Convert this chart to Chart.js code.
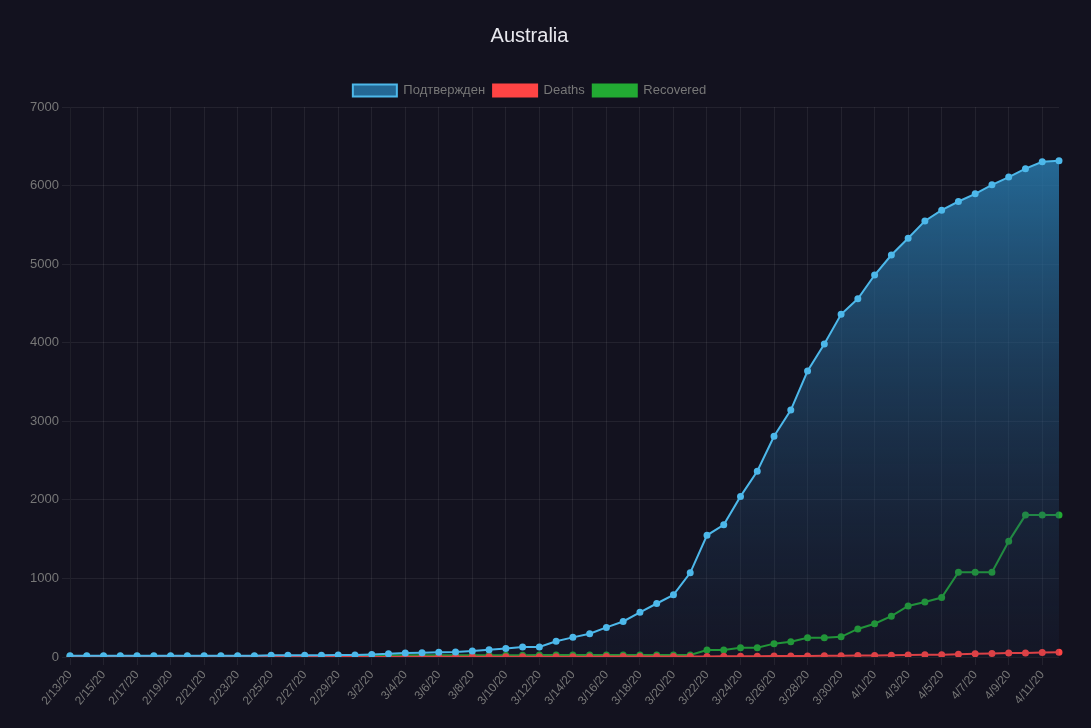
<!DOCTYPE html>
<html><head><meta charset="utf-8">
<script src="https://cdn.jsdelivr.net/npm/chart.js@4"></script>
<style>html,body{margin:0;background:#13121f;}#w{width:1091px;height:728px;}</style>
</head><body><div id="w"><canvas id="c"></canvas></div>
<script>
const labels=[];
(function(){const s=new Date(2020,1,13);for(let i=0;i<60;i++){const d=new Date(s);d.setDate(s.getDate()+i);labels.push((d.getMonth()+1)+'/'+d.getDate()+'/20');}})();
const confirmed=[15,15,15,15,15,15,15,15,15,15,15,15,22,22,23,23,25,27,33,40,52,55,60,63,76,91,107,128,128,200,250,297,377,452,568,681,791,1071,1549,1682,2044,2364,2810,3143,3640,3984,4361,4559,4862,5116,5330,5550,5687,5797,5895,6010,6108,6215,6303,6315];
const deaths=[0,0,0,0,0,0,0,0,0,0,0,0,0,0,0,0,0,1,1,1,2,2,2,2,3,3,3,3,3,3,3,3,5,5,6,6,7,7,7,8,8,8,13,13,14,16,17,18,20,22,25,28,30,34,40,45,50,51,56,61];
const recovered=[8,8,8,8,10,10,11,11,11,11,11,11,11,11,11,11,11,11,21,21,21,21,21,21,21,21,21,21,26,26,26,26,26,26,26,26,26,26,88,88,117,117,170,194,244,244,257,357,423,520,649,701,757,1080,1080,1080,1472,1806,1806,1806];
const ctx=document.getElementById('c').getContext('2d');
const g=ctx.createLinearGradient(0,160,0,657);
g.addColorStop(0,'rgba(40,120,170,0.85)');g.addColorStop(1,'rgba(30,50,80,0.15)');
const grid={color:'rgba(255,255,255,0.07)'};
new Chart(ctx,{type:'line',data:{labels,datasets:[
{label:'Подтвержден',data:confirmed,borderColor:'#4db8ea',backgroundColor:g,fill:true,pointRadius:2.5,pointBackgroundColor:'#4db8ea',borderWidth:2,tension:0},
{label:'Deaths',data:deaths,borderColor:'#ff4444',backgroundColor:'#ff4444',pointRadius:2.5,borderWidth:2},
{label:'Recovered',data:recovered,borderColor:'#22aa33',backgroundColor:'#22aa33',pointRadius:2.5,borderWidth:2}]},
options:{responsive:true,maintainAspectRatio:false,animation:false,
layout:{padding:{right:32,left:0,top:14,bottom:0}},
plugins:{title:{display:true,text:'Australia',color:'#e8e8ee',font:{size:20,weight:'normal',family:'Liberation Sans'},padding:{top:10,bottom:28}},
legend:{labels:{color:'#777',font:{size:13,family:'Liberation Sans'},boxWidth:44,boxHeight:12,padding:8}}},
scales:{y:{min:0,max:7000,afterFit:s=>{s.width=70},ticks:{stepSize:1000,color:'#777',font:{size:13},callback:v=>String(v)},grid},
x:{afterFit:s=>{s.height=71},ticks:{color:'#777',font:{size:12},maxRotation:50,minRotation:50,autoSkip:false,callback:(v,i)=>i%2===0?labels[i]:null},grid}}}});
</script></body></html>
